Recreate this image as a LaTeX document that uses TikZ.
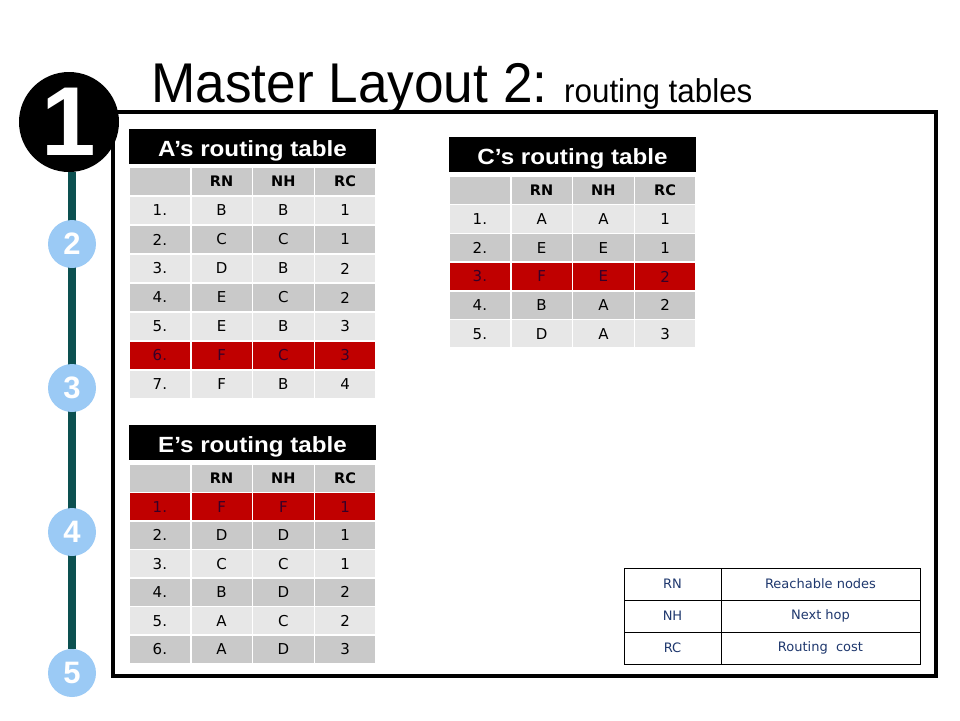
\documentclass[tikz,border=0pt]{standalone}
\usepackage{fontspec}
\usepackage{graphicx}
\setmainfont{Liberation Sans}
\newfontfamily\verd{DejaVu Sans}
\definecolor{lgray}{RGB}{231,231,231}
\definecolor{dgray}{RGB}{201,201,201}
\definecolor{rred}{RGB}{192,0,0}
\definecolor{rtext}{RGB}{55,0,40}
\definecolor{tealline}{RGB}{12,80,80}
\definecolor{stepblue}{RGB}{155,202,245}
\definecolor{navy}{RGB}{31,56,110}
\newcommand\sqz[2]{\scalebox{#1}[1]{#2}}
\newcommand\rtab[7]{%
  \node[titlebar, minimum width=247pt, minimum height=35pt] (#1-title) at (#2+123.5, #3+17.5) {\sqz{1.1}{#6}};
  \foreach \h [count=\j from 0] in {{},RN,NH,RC} {
    \node[cell, fill=dgray, font=\verd\bfseries\fontsize{14.5}{15}\selectfont, minimum height=#5 pt] (#1-0-\j) at (#2+30.875+61.75*\j, #4+#5/2) {\h};
  }
  \foreach \a/\b/\c/\d/\fc/\tc [count=\i] in {#7} {
    \node[cell, fill=\fc, text=\tc, minimum height=#5 pt] (#1-\i-0) at (#2+30.875, #4+#5/2+#5*\i) {\a};
    \node[cell, fill=\fc, text=\tc, minimum height=#5 pt] (#1-\i-1) at (#2+92.625, #4+#5/2+#5*\i) {\b};
    \node[cell, fill=\fc, text=\tc, minimum height=#5 pt] (#1-\i-2) at (#2+154.375, #4+#5/2+#5*\i) {\c};
    \node[cell, fill=\fc, text=\tc, minimum height=#5 pt] (#1-\i-3) at (#2+216.125, #4+#5/2+#5*\i) {\d};
  }
}
\begin{document}
\begin{tikzpicture}[x=1pt,y=-1pt,
  titlebar/.style={fill=black, text=white, inner sep=0, text height=19pt, text depth=0pt, font=\bfseries\fontsize{22}{22}\selectfont},
  cell/.style={draw=white, line width=1.5pt, inner sep=0, minimum width=61.75pt, font=\verd\fontsize{15}{15}\selectfont},
  stepnum/.style={circle, fill=stepblue, inner sep=0, minimum size=48pt, text=white, font=\bfseries\fontsize{31}{31}\selectfont},
  legcell/.style={draw=black, line width=0.8pt, inner sep=0, minimum height=32pt, text=navy, font=\verd\fontsize{13}{13}\selectfont}
]
\useasboundingbox (0,0) rectangle (960,720);
\fill[white] (0,0) rectangle (960,720);

% frame
\node[draw=black, line width=3.5pt, minimum width=823pt, minimum height=564pt, inner sep=0] (frame) at (524.5,394) {};

% title
\node[anchor=base west, inner sep=0] (title) at (151,102) {\fontsize{56}{56}\selectfont\sqz{0.95}{Master Layout 2:}};
\node[anchor=base west, inner sep=0] (subtitle) at (564,102) {\fontsize{33}{33}\selectfont\sqz{0.95}{routing tables}};

% timeline
\node[circle, fill=black, minimum size=100pt, inner sep=0, text=white, font=\bfseries\fontsize{98}{98}\selectfont] (c1) at (69,122) {1};
\node[stepnum] (c5) at (72,673) {5};
\draw[tealline, line width=8pt] (c5.north) -- (c5.north |- c1.south);
\node[stepnum] (c2) at (72,244) {2};
\node[stepnum] (c3) at (72,388) {3};
\node[stepnum] (c4) at (72,532) {4};

% tables
\rtab{A}{129}{129}{167}{29}{A’s routing table}{1./B/B/1/lgray/black, 2./C/C/1/dgray/black, 3./D/B/2/lgray/black, 4./E/C/2/dgray/black, 5./E/B/3/lgray/black, 6./F/C/3/rred/rtext, 7./F/B/4/lgray/black}
\rtab{C}{449}{137}{176}{28.7}{C’s routing table}{1./A/A/1/lgray/black, 2./E/E/1/dgray/black, 3./F/E/2/rred/rtext, 4./B/A/2/dgray/black, 5./D/A/3/lgray/black}
\rtab{E}{129}{425}{464}{28.5}{E’s routing table}{1./F/F/1/rred/rtext, 2./D/D/1/dgray/black, 3./C/C/1/lgray/black, 4./B/D/2/dgray/black, 5./A/C/2/lgray/black, 6./A/D/3/dgray/black}

% legend
\node[legcell, minimum width=97pt] (L-1-1) at (672.5,584) {RN};
\node[legcell, minimum width=199pt] (L-1-2) at (820.5,584) {Reachable nodes};
\node[legcell, minimum width=97pt] (L-2-1) at (672.5,616) {NH};
\node[legcell, minimum width=199pt] (L-2-2) at (820.5,616) {Next hop};
\node[legcell, minimum width=97pt] (L-3-1) at (672.5,648) {RC};
\node[legcell, minimum width=199pt] (L-3-2) at (820.5,648) {Routing\ \ cost};
\end{tikzpicture}
\end{document}
